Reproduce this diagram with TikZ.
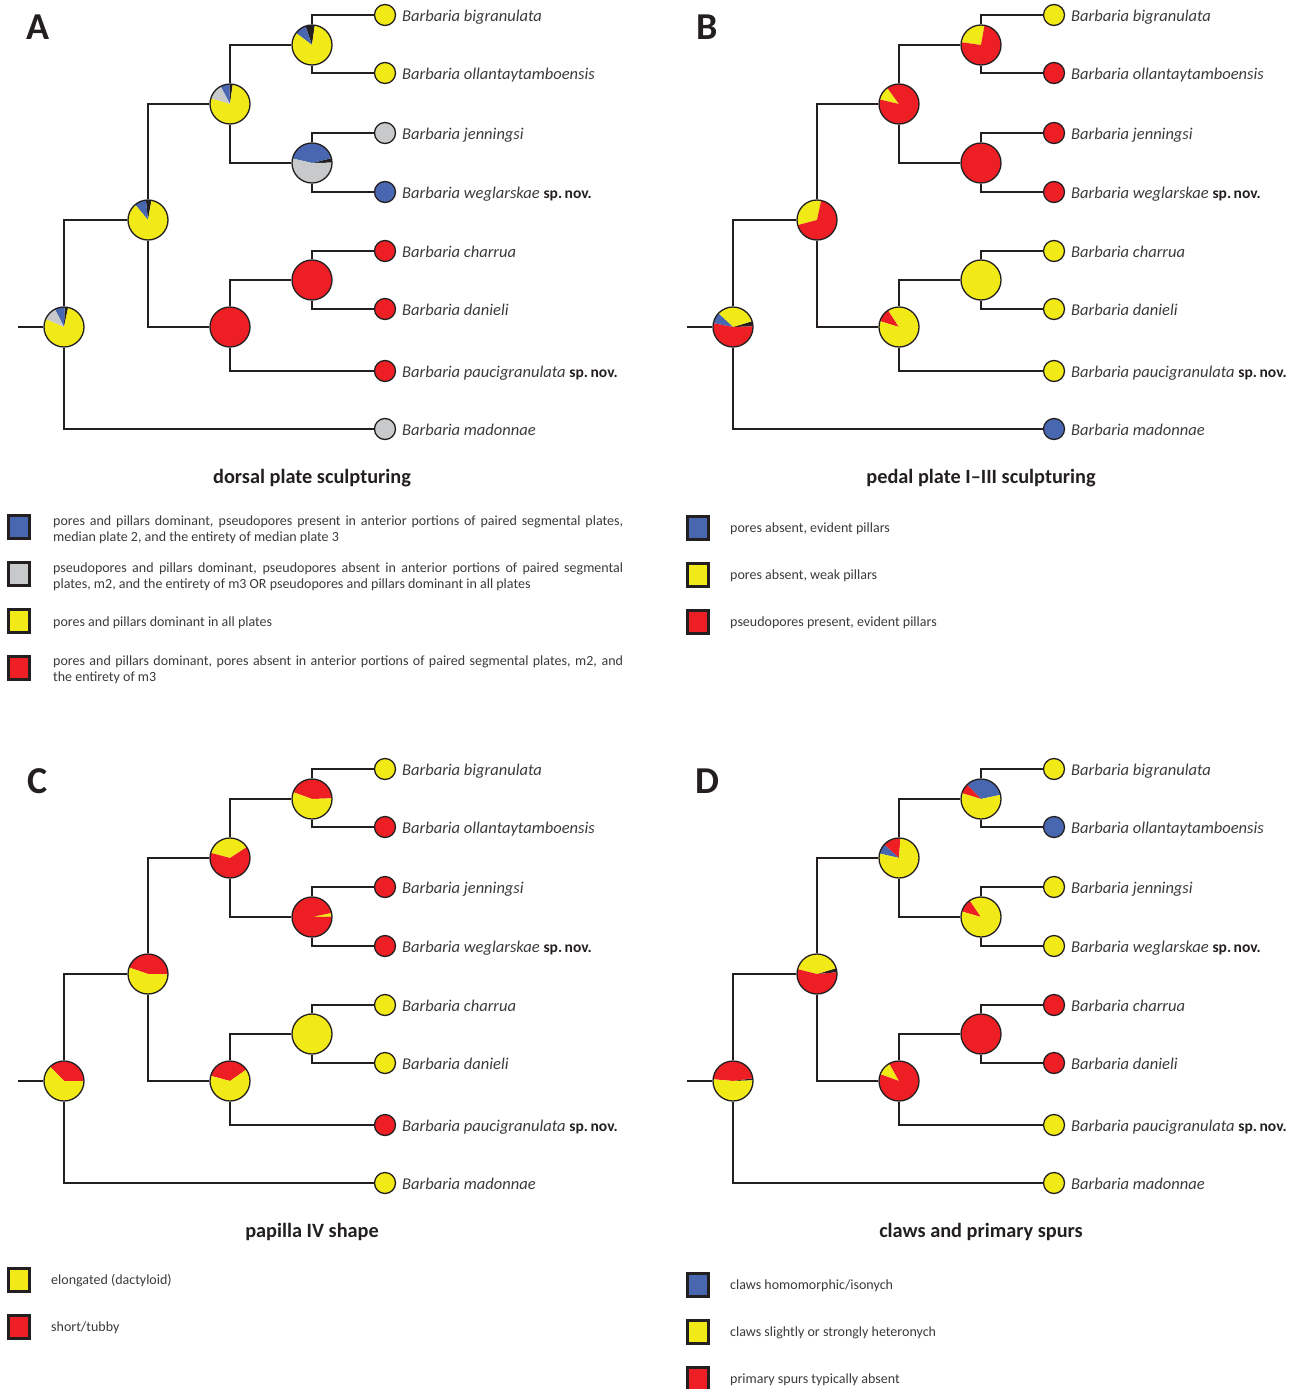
\documentclass[tikz,border=0pt]{standalone}
\usepackage{fontspec}
\setmainfont{Carlito}
\definecolor{cY}{RGB}{242,234,22}
\definecolor{cR}{RGB}{237,30,36}
\definecolor{cB}{RGB}{73,103,176}
\definecolor{cG}{RGB}{200,201,203}
\definecolor{cK}{RGB}{35,31,32}
\definecolor{ink}{RGB}{35,31,32}
\definecolor{txt}{RGB}{58,58,58}
\tikzset{
 br/.style={line width=2.6pt, draw=ink, line join=miter},
 pie/.style={path picture={\foreach \pa/\pb/\pc in #1 {\fill[\pc] (path picture bounding box.center) -- ++(\pa:30pt) arc[start angle=\pa,end angle=\pb,radius=30pt] -- cycle;}}},
 inode/.style={circle, draw=ink, line width=1.3pt, minimum size=40pt, inner sep=0pt},
 tipn/.style={circle, draw=ink, line width=1.3pt, minimum size=21pt, inner sep=0pt},
 lab/.style={anchor=base west, inner sep=0pt, font=\fontsize{16.5}{18}\selectfont\itshape, text=txt},
 ttl/.style={inner sep=0pt, font=\fontsize{20.3}{22}\selectfont\bfseries, text=ink},
 letter/.style={inner sep=0pt, font=\fontsize{38}{40}\selectfont\bfseries, text=ink},
 lsq/.style={rectangle, draw=ink, line width=2.2pt, minimum width=21pt, minimum height=23pt, inner sep=0pt},
 ltx/.style={anchor=west, inner sep=0pt, text width=570pt, align=justify, font=\fontsize{14}{16.5}\selectfont, text=txt},
 ltxs/.style={anchor=west, inner sep=0pt, font=\fontsize{14}{16.5}\selectfont, text=txt},
}
\newcommand\spnov{\textup{\fontsize{15.5}{18}\selectfont\bfseries\color{ink} sp.\,nov.}}
\newcommand\drawtree[3]{%
 \coordinate (#1s) at (18,327);
 \node[inode,pie=\PR] (#1r) at (64,327) {};
 \node[inode,pie=\PA] (#1n1) at (148,220) {};
 \node[inode,pie=\PB] (#1n2) at (230,104) {};
 \node[inode,pie=\PC] (#1n3) at (230,327) {};
 \node[inode,pie=\PD] (#1n4) at (312,45) {};
 \node[inode,pie=\PE] (#1n5) at (312,163) {};
 \node[inode,pie=\PF] (#1n6) at (312,280) {};
 \node[tipn,fill=\TA] (#1big) at (385,15) {};
 \node[tipn,fill=\TB] (#1oll) at (385,73) {};
 \node[tipn,fill=\TC] (#1jen) at (385,133) {};
 \node[tipn,fill=\TD] (#1weg) at (385,192) {};
 \node[tipn,fill=\TE] (#1cha) at (385,251) {};
 \node[tipn,fill=\TF] (#1dan) at (385,309) {};
 \node[tipn,fill=\TG] (#1pau) at (385,371) {};
 \node[tipn,fill=\TH] (#1mad) at (385,429) {};
 \draw[br] (#1s) -- (#1r.west);
 \draw[br] (#1r.north) |- (#1n1.west);
 \draw[br] (#1r.south) |- (#1mad.west);
 \draw[br] (#1n1.north) |- (#1n2.west);
 \draw[br] (#1n1.south) |- (#1n3.west);
 \draw[br] (#1n2.north) |- (#1n4.west);
 \draw[br] (#1n2.south) |- (#1n5.west);
 \draw[br] (#1n4.north) |- (#1big.west);
 \draw[br] (#1n4.south) |- (#1oll.west);
 \draw[br] (#1n5.north) |- (#1jen.west);
 \draw[br] (#1n5.south) |- (#1weg.west);
 \draw[br] (#1n3.north) |- (#1n6.west);
 \draw[br] (#1n3.south) |- (#1pau.west);
 \draw[br] (#1n6.north) |- (#1cha.west);
 \draw[br] (#1n6.south) |- (#1dan.west);
 \node[lab] (#1Lbig) at (402,21.5) {Barbaria bigranulata};
 \node[lab] (#1Loll) at (402,79.5) {Barbaria ollantaytamboensis};
 \node[lab] (#1Ljen) at (402,139.5) {Barbaria jenningsi};
 \node[lab] (#1Lweg) at (402,198.5) {Barbaria weglarskae \spnov};
 \node[lab] (#1Lcha) at (402,257.5) {Barbaria charrua};
 \node[lab] (#1Ldan) at (402,315.5) {Barbaria danieli};
 \node[lab] (#1Lpau) at (402,377.5) {Barbaria paucigranulata \spnov};
 \node[lab] (#1Lmad) at (402,435.5) {Barbaria madonnae};
 \node[letter] (#1letter) at (38,27) {#2};
 \node[ttl] (#1title) at (312,478) {#3};
}
\begin{document}
\begin{tikzpicture}[x=1pt,y=-1pt]
\useasboundingbox (0,0) rectangle (1297,1389);
% ---------- A ----------
\begin{scope}
\def\PR{78/88/cK,88/117/cB,117/157/cG,157/438/cY}
\def\PA{80/96/cK,96/130/cB,130/440/cY}
\def\PB{82/92/cK,92/118/cB,118/164/cG,164/442/cY}
\def\PC{0/360/cR}
\def\PD{82/109/cK,109/143/cB,143/442/cY}
\def\PE{1/14/cK,14/167/cB,167/361/cG}
\def\PF{0/360/cR}
\def\TA{cY}\def\TB{cY}\def\TC{cG}\def\TD{cB}\def\TE{cR}\def\TF{cR}\def\TG{cR}\def\TH{cG}
\drawtree{A}{A}{dorsal plate sculpturing}
\node[lsq,fill=cB] (AQ1) at (19,527) {};
\node[ltx] (AT1) at (53,530) {pores and pillars dominant, pseudopores present in anterior portions of paired segmental plates,\linebreak median plate 2, and the entirety of median plate 3};
\node[lsq,fill=cG] (AQ2) at (19,574) {};
\node[ltx] (AT2) at (53,577) {pseudopores and pillars dominant, pseudopores absent in anterior portions of paired segmental\linebreak plates, m2, and the entirety of m3 OR pseudopores and pillars dominant in all plates};
\node[lsq,fill=cY] (AQ3) at (19,621) {};
\node[ltxs] (AT3) at (53,623) {pores and pillars dominant in all plates};
\node[lsq,fill=cR] (AQ4) at (19,668) {};
\node[ltx] (AT4) at (53,670) {pores and pillars dominant, pores absent in anterior portions of paired segmental plates, m2, and\linebreak the entirety of m3};
\end{scope}
% ---------- B ----------
\begin{scope}[shift={(669,0)}]
\def\PR{2/17/cK,17/137/cY,137/169/cB,169/362/cR}
\def\PA{78/195/cY,195/438/cR}
\def\PB{126/167/cY,167/486/cR}
\def\PC{123/163/cR,163/483/cY}
\def\PD{80/172/cY,172/440/cR}
\def\PE{0/360/cR}
\def\PF{0/360/cY}
\def\TA{cY}\def\TB{cR}\def\TC{cR}\def\TD{cR}\def\TE{cY}\def\TF{cY}\def\TG{cY}\def\TH{cB}
\drawtree{B}{B}{pedal plate I--III sculpturing}
\node[lsq,fill=cB] (BQ1) at (29,528) {};
\node[ltxs] (BT1) at (61,529) {pores absent, evident pillars};
\node[lsq,fill=cY] (BQ2) at (29,575) {};
\node[ltxs] (BT2) at (61,576) {pores absent, weak pillars};
\node[lsq,fill=cR] (BQ3) at (29,622) {};
\node[ltxs] (BT3) at (61,623) {pseudopores present, evident pillars};
\end{scope}
% ---------- C ----------
\begin{scope}[shift={(0,754)}]
\def\PR{0/134/cR,134/360/cY}
\def\PA{-1/161/cR,161/359/cY}
\def\PB{33/165/cY,165/393/cR}
\def\PC{35/165/cR,165/395/cY}
\def\PD{2/160/cR,160/362/cY}
\def\PE{1/12/cY,12/361/cR}
\def\PF{0/360/cY}
\def\TA{cY}\def\TB{cR}\def\TC{cR}\def\TD{cR}\def\TE{cY}\def\TF{cY}\def\TG{cR}\def\TH{cY}
\drawtree{C}{C}{papilla IV shape}
\node[lsq,fill=cY] (CQ1) at (19,526) {};
\node[ltxs] (CT1) at (51,527) {elongated (dactyloid)};
\node[lsq,fill=cR] (CQ2) at (19,573) {};
\node[ltxs] (CT2) at (51,574) {short/tubby};
\end{scope}
% ---------- D ----------
\begin{scope}[shift={(669,754)}]
\def\PR{2/8/cK,8/175/cR,175/362/cY}
\def\PA{5/17/cK,17/166/cY,166/365/cR}
\def\PB{86/138/cR,138/167/cB,167/446/cY}
\def\PC{119/160/cY,160/479/cR}
\def\PD{12/134/cB,134/163/cR,163/372/cY}
\def\PE{124/164/cR,164/484/cY}
\def\PF{0/360/cR}
\def\TA{cY}\def\TB{cB}\def\TC{cY}\def\TD{cY}\def\TE{cR}\def\TF{cR}\def\TG{cY}\def\TH{cY}
\drawtree{D}{D}{claws and primary spurs}
\node[lsq,fill=cB] (DQ1) at (29,531) {};
\node[ltxs] (DT1) at (61,532) {claws homomorphic/isonych};
\node[lsq,fill=cY] (DQ2) at (29,578) {};
\node[ltxs] (DT2) at (61,579) {claws slightly or strongly heteronych};
\node[lsq,fill=cR] (DQ3) at (29,625) {};
\node[ltxs] (DT3) at (61,626) {primary spurs typically absent};
\end{scope}
\end{tikzpicture}
\end{document}
